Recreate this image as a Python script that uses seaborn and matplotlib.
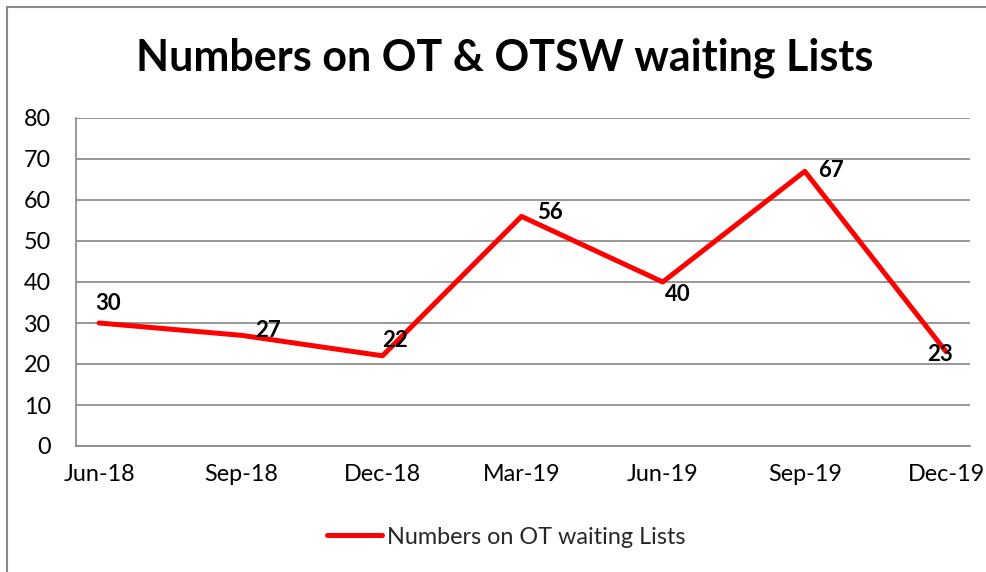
# waiting_lists.py
# Line chart of numbers on the OT & OTSW waiting lists, one point per quarter

import pandas as pd
import matplotlib
matplotlib.use("Agg")
import matplotlib.pyplot as plt
import matplotlib.dates as mdates
from matplotlib.patches import Rectangle
import seaborn as sns

# Data
months = ['2018-06', '2018-09', '2018-12', '2019-03', '2019-06', '2019-09', '2019-12']
counts = [30, 27, 22, 56, 40, 67, 23]
series_name = 'Numbers on OT waiting Lists'
title = 'Numbers on OT & OTSW waiting Lists'

# label nudges in pixels (dx, dy), like the hand-placed labels in the original
label_offsets = [(9, 20), (27, 5), (13, 15), (28, 4), (15, -13), (26, 1), (-6, -3)]

periods = pd.PeriodIndex(months, freq='M')
starts = periods.start_time
ends = periods.end_time
df = pd.DataFrame({
    'date': starts + (ends - starts) / 2,   # Excel date axis puts points mid-month
    'count': counts,
})

sns.set_style('white')
plt.rcParams['font.family'] = ['Lato', 'DejaVu Sans']

fig = plt.figure(figsize=(9.87, 5.72), dpi=100)
ax = fig.add_axes([76 / 987, 1 - 446 / 572, (970 - 76) / 987, (446 - 118) / 572])

sns.lineplot(data=df, x='date', y='count', ax=ax, color='#FF0000',
             linewidth=3.6, label=series_name, legend=False)

# axes
ax.set_ylim(0, 80)
ax.set_yticks(range(0, 81, 10))
ax.set_xlim(pd.Timestamp('2018-06-01'), pd.Timestamp('2020-01-01'))
# tick marks at month starts, labels centred on the month (mid-month)
ax.set_xticks(starts)
ax.set_xticklabels([])
ax.set_xticks(df['date'], minor=True)
ax.xaxis.set_minor_formatter(mdates.DateFormatter('%b-%y'))
ax.set_xlabel('')
ax.set_ylabel('')

grey = '#868686'
ax.yaxis.grid(True, color=grey, linewidth=1.2)
ax.xaxis.grid(False, which='both')
ax.set_axisbelow(True)
for side in ['top', 'right']:
    ax.spines[side].set_visible(False)
for side in ['left', 'bottom']:
    ax.spines[side].set_color(grey)
    ax.spines[side].set_linewidth(1.2)
ax.tick_params(axis='both', which='major', direction='out', length=5.8, width=1.2,
               color=grey, labelcolor='black', labelsize=16.8)
ax.tick_params(axis='y', pad=12)
ax.tick_params(axis='x', which='minor', length=0, labelsize=16.8,
               labelcolor='black', pad=13)

# data labels
for (d, c), (dx, dy) in zip(zip(df['date'], df['count']), label_offsets):
    ax.annotate(str(c), (d, c), xytext=(dx, dy), textcoords='offset pixels',
                ha='center', va='center', fontsize=16, fontweight='bold',
                color='black', annotation_clip=False)

fig.text(505 / 987, 1 - 58 / 572, title, ha='center', va='center',
         fontsize=31, fontweight='bold', color='black')

handles, labels = ax.get_legend_handles_labels()
fig.legend(handles, labels, loc='center', bbox_to_anchor=(506 / 987, 1 - 537 / 572),
           frameon=False, fontsize=16.8, handlelength=2.36, handletextpad=0.2)

# chart border
fig.add_artist(Rectangle((7 / 987, -0.1), 1.2, 1.1 - 7 / 572, transform=fig.transFigure,
                         fill=False, edgecolor='#8a8a8a', linewidth=1.5))

fig.savefig('out.png', dpi=100)
